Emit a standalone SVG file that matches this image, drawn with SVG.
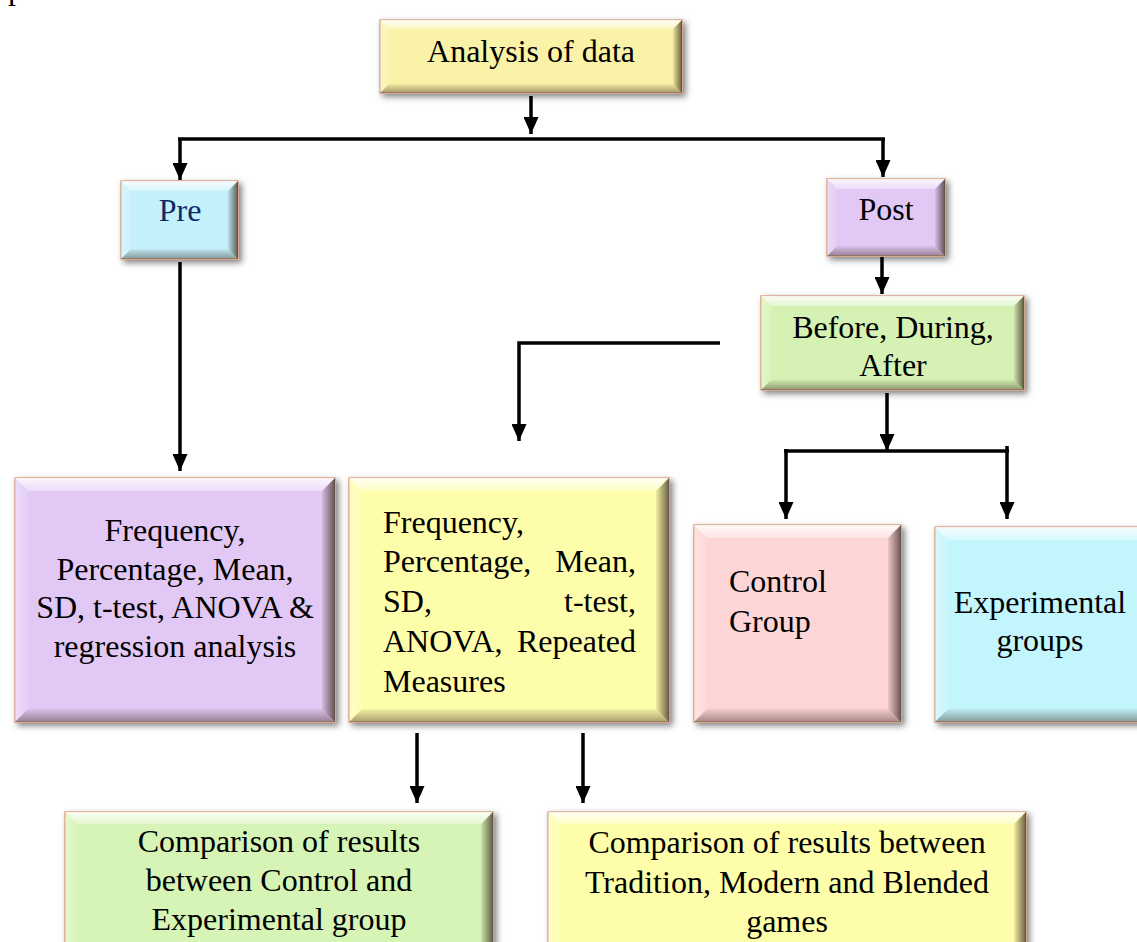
<svg xmlns="http://www.w3.org/2000/svg" width="1137" height="942" viewBox="0 0 1137 942">
<defs>
<style>
.t{font-family:"Liberation Serif","Times New Roman",serif;font-size:32px;fill:#000}
.c{text-anchor:middle}
.e{text-anchor:end}
.box{stroke:#d9a283;stroke-width:1.5}
.bt{fill:url(#gTop)}
.bl{fill:url(#gLeft)}
.br{fill:url(#gRight)}
.bb{fill:url(#gBot)}
.ln{fill:none;stroke:#000;stroke-width:3.5}
.ar{marker-end:url(#arr)}
</style>
<filter id="sh" x="-10%" y="-10%" width="130%" height="130%">
<feDropShadow dx="3" dy="3" stdDeviation="3" flood-color="#000" flood-opacity="0.5"/>
</filter>
<linearGradient id="gTop" x1="0" y1="0" x2="0" y2="1">
<stop offset="0" stop-color="#fff" stop-opacity="0.85"/>
<stop offset="1" stop-color="#fff" stop-opacity="0.35"/>
</linearGradient>
<linearGradient id="gLeft" x1="0" y1="0" x2="1" y2="0">
<stop offset="0" stop-color="#fff" stop-opacity="0.35"/>
<stop offset="1" stop-color="#fff" stop-opacity="0.1"/>
</linearGradient>
<linearGradient id="gRight" x1="0" y1="0" x2="1" y2="0">
<stop offset="0" stop-color="#3a2a20" stop-opacity="0.08"/>
<stop offset="1" stop-color="#3a2a20" stop-opacity="0.75"/>
</linearGradient>
<linearGradient id="gBot" x1="0" y1="0" x2="0" y2="1">
<stop offset="0" stop-color="#3a2a20" stop-opacity="0.05"/>
<stop offset="1" stop-color="#3a2a20" stop-opacity="0.45"/>
</linearGradient>
<marker id="arr" markerUnits="userSpaceOnUse" markerWidth="17" markerHeight="15" viewBox="0 0 17 15" refX="17" refY="7.5" orient="auto">
<path d="M0,0 L17,7.5 L0,15 z" fill="#000"/>
</marker>
</defs>
<rect x="0" y="0" width="1137" height="942" fill="#fff"/>
<text class="t" x="8" y="-1">p</text>

<g id="analysis">
<rect class="box" x="380" y="20" width="302" height="73" fill="#faf2a6" filter="url(#sh)"/>
<polygon class="bt" points="380,20 682,20 673,29 389,29"/>
<polygon class="bl" points="380,20 389,29 389,84 380,93"/>
<polygon class="br" points="682,20 682,93 673,84 673,29"/>
<polygon class="bb" points="380,93 682,93 673,84 389,84"/>
<text class="t c" x="531" y="62">Analysis of data</text>
</g>

<g id="pre">
<rect class="box" x="121" y="181" width="117" height="78" fill="#c4f0fb" filter="url(#sh)"/>
<polygon class="bt" points="121,181 238,181 228,191 131,191"/>
<polygon class="bl" points="121,181 131,191 131,249 121,259"/>
<polygon class="br" points="238,181 238,259 228,249 228,191"/>
<polygon class="bb" points="121,259 238,259 228,249 131,249"/>
<text class="t c" x="180" y="221" style="fill:#0e2a66">Pre</text>
</g>

<g id="post">
<rect class="box" x="827" y="179" width="118" height="77" fill="#e2c8f4" filter="url(#sh)"/>
<polygon class="bt" points="827,179 945,179 935,189 837,189"/>
<polygon class="bl" points="827,179 837,189 837,246 827,256"/>
<polygon class="br" points="945,179 945,256 935,246 935,189"/>
<polygon class="bb" points="827,256 945,256 935,246 837,246"/>
<text class="t c" x="886" y="220">Post</text>
</g>

<g id="before">
<rect class="box" x="761" y="296" width="263" height="94" fill="#d5f2b4" filter="url(#sh)"/>
<polygon class="bt" points="761,296 1024,296 1014,306 771,306"/>
<polygon class="bl" points="761,296 771,306 771,380 761,390"/>
<polygon class="br" points="1024,296 1024,390 1014,380 1014,306"/>
<polygon class="bb" points="761,390 1024,390 1014,380 771,380"/>
<text class="t c" x="893" y="338">Before, During,</text>
<text class="t c" x="893" y="376">After</text>
</g>

<g id="pre-stats">
<rect class="box" x="15" y="478" width="320" height="244" fill="#e2c8f4" filter="url(#sh)"/>
<polygon class="bt" points="15,478 335,478 322,491 28,491"/>
<polygon class="bl" points="15,478 28,491 28,709 15,722"/>
<polygon class="br" points="335,478 335,722 322,709 322,491"/>
<polygon class="bb" points="15,722 335,722 322,709 28,709"/>
<text class="t c" x="175" y="541">Frequency,</text>
<text class="t c" x="175" y="580">Percentage, Mean,</text>
<text class="t c" x="175" y="618">SD, t-test, ANOVA &amp;</text>
<text class="t c" x="175" y="657">regression analysis</text>
</g>

<g id="post-stats">
<rect class="box" x="349" y="478" width="320" height="244" fill="#fefda9" filter="url(#sh)"/>
<polygon class="bt" points="349,478 669,478 656,491 362,491"/>
<polygon class="bl" points="349,478 362,491 362,709 349,722"/>
<polygon class="br" points="669,478 669,722 656,709 656,491"/>
<polygon class="bb" points="349,722 669,722 656,709 362,709"/>
<text class="t" x="383" y="533">Frequency,</text>
<text class="t" x="383" y="572">Percentage,</text>
<text class="t e" x="636" y="572">Mean,</text>
<text class="t" x="383" y="612">SD,</text>
<text class="t e" x="636" y="612">t-test,</text>
<text class="t" x="383" y="652">ANOVA,</text>
<text class="t e" x="636" y="652">Repeated</text>
<text class="t" x="383" y="692">Measures</text>
</g>

<g id="control">
<rect class="box" x="694" y="525" width="207" height="197" fill="#fdd5d6" filter="url(#sh)"/>
<polygon class="bt" points="694,525 901,525 888,538 707,538"/>
<polygon class="bl" points="694,525 707,538 707,709 694,722"/>
<polygon class="br" points="901,525 901,722 888,709 888,538"/>
<polygon class="bb" points="694,722 901,722 888,709 707,709"/>
<text class="t" x="729" y="592">Control</text>
<text class="t" x="729" y="632">Group</text>
</g>

<g id="experimental">
<rect class="box" x="935" y="527" width="215" height="195" fill="#c3f5fd" filter="url(#sh)"/>
<polygon class="bt" points="935,527 1150,527 1137,540 948,540"/>
<polygon class="bl" points="935,527 948,540 948,709 935,722"/>
<polygon class="br" points="1150,527 1150,722 1137,709 1137,540"/>
<polygon class="bb" points="935,722 1150,722 1137,709 948,709"/>
<text class="t c" x="1040" y="613">Experimental</text>
<text class="t c" x="1040" y="651">groups</text>
</g>

<g id="compare-groups">
<rect class="box" x="65" y="812" width="428" height="150" fill="#d5f4b5" filter="url(#sh)"/>
<polygon class="bt" points="65,812 493,812 481,824 77,824"/>
<polygon class="bl" points="65,812 77,824 77,950 65,962"/>
<polygon class="br" points="493,812 493,962 481,950 481,824"/>
<text class="t c" x="279" y="852">Comparison of results</text>
<text class="t c" x="279" y="891">between Control and</text>
<text class="t c" x="279" y="930">Experimental group</text>
</g>

<g id="compare-games">
<rect class="box" x="548" y="812" width="478" height="150" fill="#fefda9" filter="url(#sh)"/>
<polygon class="bt" points="548,812 1026,812 1014,824 560,824"/>
<polygon class="bl" points="548,812 560,824 560,950 548,962"/>
<polygon class="br" points="1026,812 1026,962 1014,950 1014,824"/>
<text class="t c" x="787" y="853">Comparison of results between</text>
<text class="t c" x="787" y="893">Tradition, Modern and Blended</text>
<text class="t c" x="787" y="932">games</text>
</g>

<g id="connectors">
<path class="ln ar" d="M531,96 V134"/>
<path class="ln" d="M178,139 H885"/>
<path class="ln ar" d="M180,139 V180"/>
<path class="ln ar" d="M883,139 V177"/>
<path class="ln ar" d="M180,262 V471"/>
<path class="ln ar" d="M882,257 V294"/>
<path class="ln ar" d="M720,343 H519 V441"/>
<path class="ln ar" d="M887,393 V451"/>
<path class="ln" d="M784,451 H1009"/>
<path class="ln ar" d="M786,449 V519"/>
<path class="ln ar" d="M1007,446 V519"/>
<path class="ln ar" d="M417,733 V803"/>
<path class="ln ar" d="M583,733 V803"/>
</g>
</svg>
